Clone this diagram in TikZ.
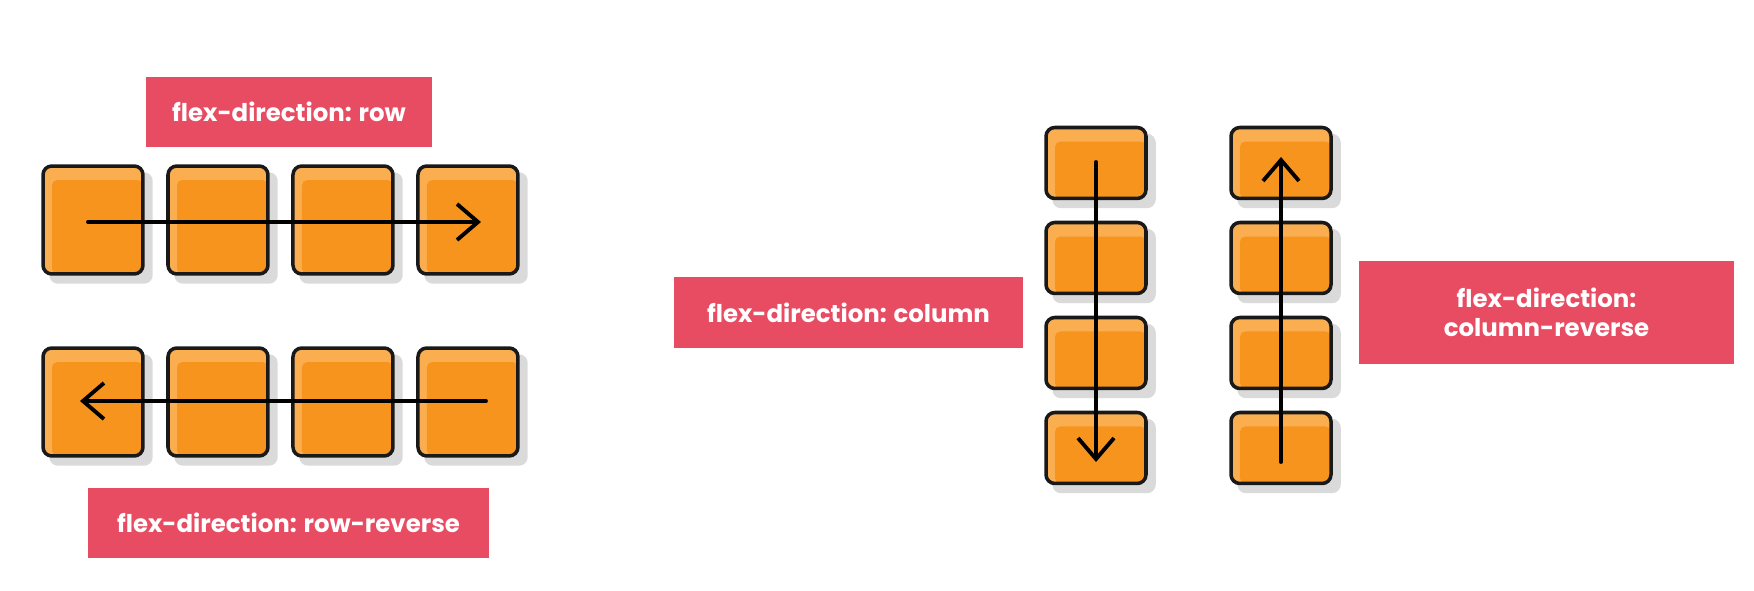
\documentclass[tikz,border=0pt]{standalone}
\usepackage{fontspec}
\setmainfont{Poppins}
\usetikzlibrary{calc,positioning,backgrounds,arrows.meta}

\definecolor{flexpink}{RGB}{232,76,98}
\definecolor{boxorange}{RGB}{247,148,30}
\definecolor{boxlight}{RGB}{250,174,80}
\definecolor{boxshadow}{RGB}{218,218,218}

\tikzset{
  flexbox/.style={draw=black!90, line width=2pt, rounded corners=5pt, fill=boxlight,
    inner sep=0pt, minimum width=2cm, minimum height=#1,
    path picture={\fill[boxorange, rounded corners=3pt]
      ($(path picture bounding box.north west)+(9,14)$) rectangle (path picture bounding box.south east);}},
  flexbox/.default=2.16cm,
  flexlabel/.style={fill=flexpink, text=white, inner sep=0pt, align=center,
    font=\bfseries\fontsize{13.9}{16.5}\selectfont},
  flow/.style={line width=2.2pt, line cap=round,
    -{Straight Barb[length=0.42cm, width=0.72cm, line width=2.2pt]}}
}

\begin{document}
\begin{tikzpicture}[x=0.02cm, y=-0.02cm]
\useasboundingbox (0,0) rectangle (1754,591);

% rows
\node[flexbox] (r1a) at (93,220) {};
\node[flexbox] (r2a) at (93,402) {};
\foreach \r in {1,2}
  \foreach \n/\p in {b/a,c/b,d/c}
    \node[flexbox, right=0.43cm of r\r\p] (r\r\n) {};

% columns
\node[flexbox=1.42cm] (c1a) at (1096,163) {};
\node[flexbox=1.42cm] (c2a) at (1281,163) {};
\foreach \c in {1,2}
  \foreach \n/\p in {b/a,c/b,d/c}
    \node[flexbox=1.42cm, below=0.41cm of c\c\p] (c\c\n) {};

% shadows
\begin{scope}[on background layer]
\foreach \b in {r1a,r1b,r1c,r1d,r2a,r2b,r2c,r2d,c1a,c1b,c1c,c1d,c2a,c2b,c2c,c2d}
  \fill[boxshadow, rounded corners=5pt] ($(\b.north west)+(8,8)$) rectangle ($(\b.south east)+(8,8)$);
\end{scope}

% arrows
\draw[flow] ($(r1a.center)+(-5,2)$) -- ($(r1d.center)+(13,2)$);
\draw[flow] ($(r2d.center)+(18,-1)$) -- ($(r2a.center)+(-13,-1)$);
\draw[flow] ($(c1a.center)+(0,-1)$) -- ($(c1d.center)+(0,14)$);
\draw[flow] ($(c2d.center)+(0,14)$) -- ($(c2a.center)+(0,-6)$);

% labels
\node[flexlabel, minimum width=5.72cm, minimum height=1.4cm] (rowlbl) at (289,112) {flex-direction: row};
\node[flexlabel, minimum width=8.02cm, minimum height=1.4cm] (rowrevlbl) at (288.5,523) {flex-direction: row-reverse};
\node[flexlabel, minimum width=6.98cm, minimum height=1.42cm] (collbl) at (848.5,312.5) {flex-direction: column};
\node[flexlabel, minimum width=7.5cm, minimum height=2.06cm] (colrevlbl) at (1546.5,312.5) {flex-direction:\\column-reverse};
\end{tikzpicture}
\end{document}
